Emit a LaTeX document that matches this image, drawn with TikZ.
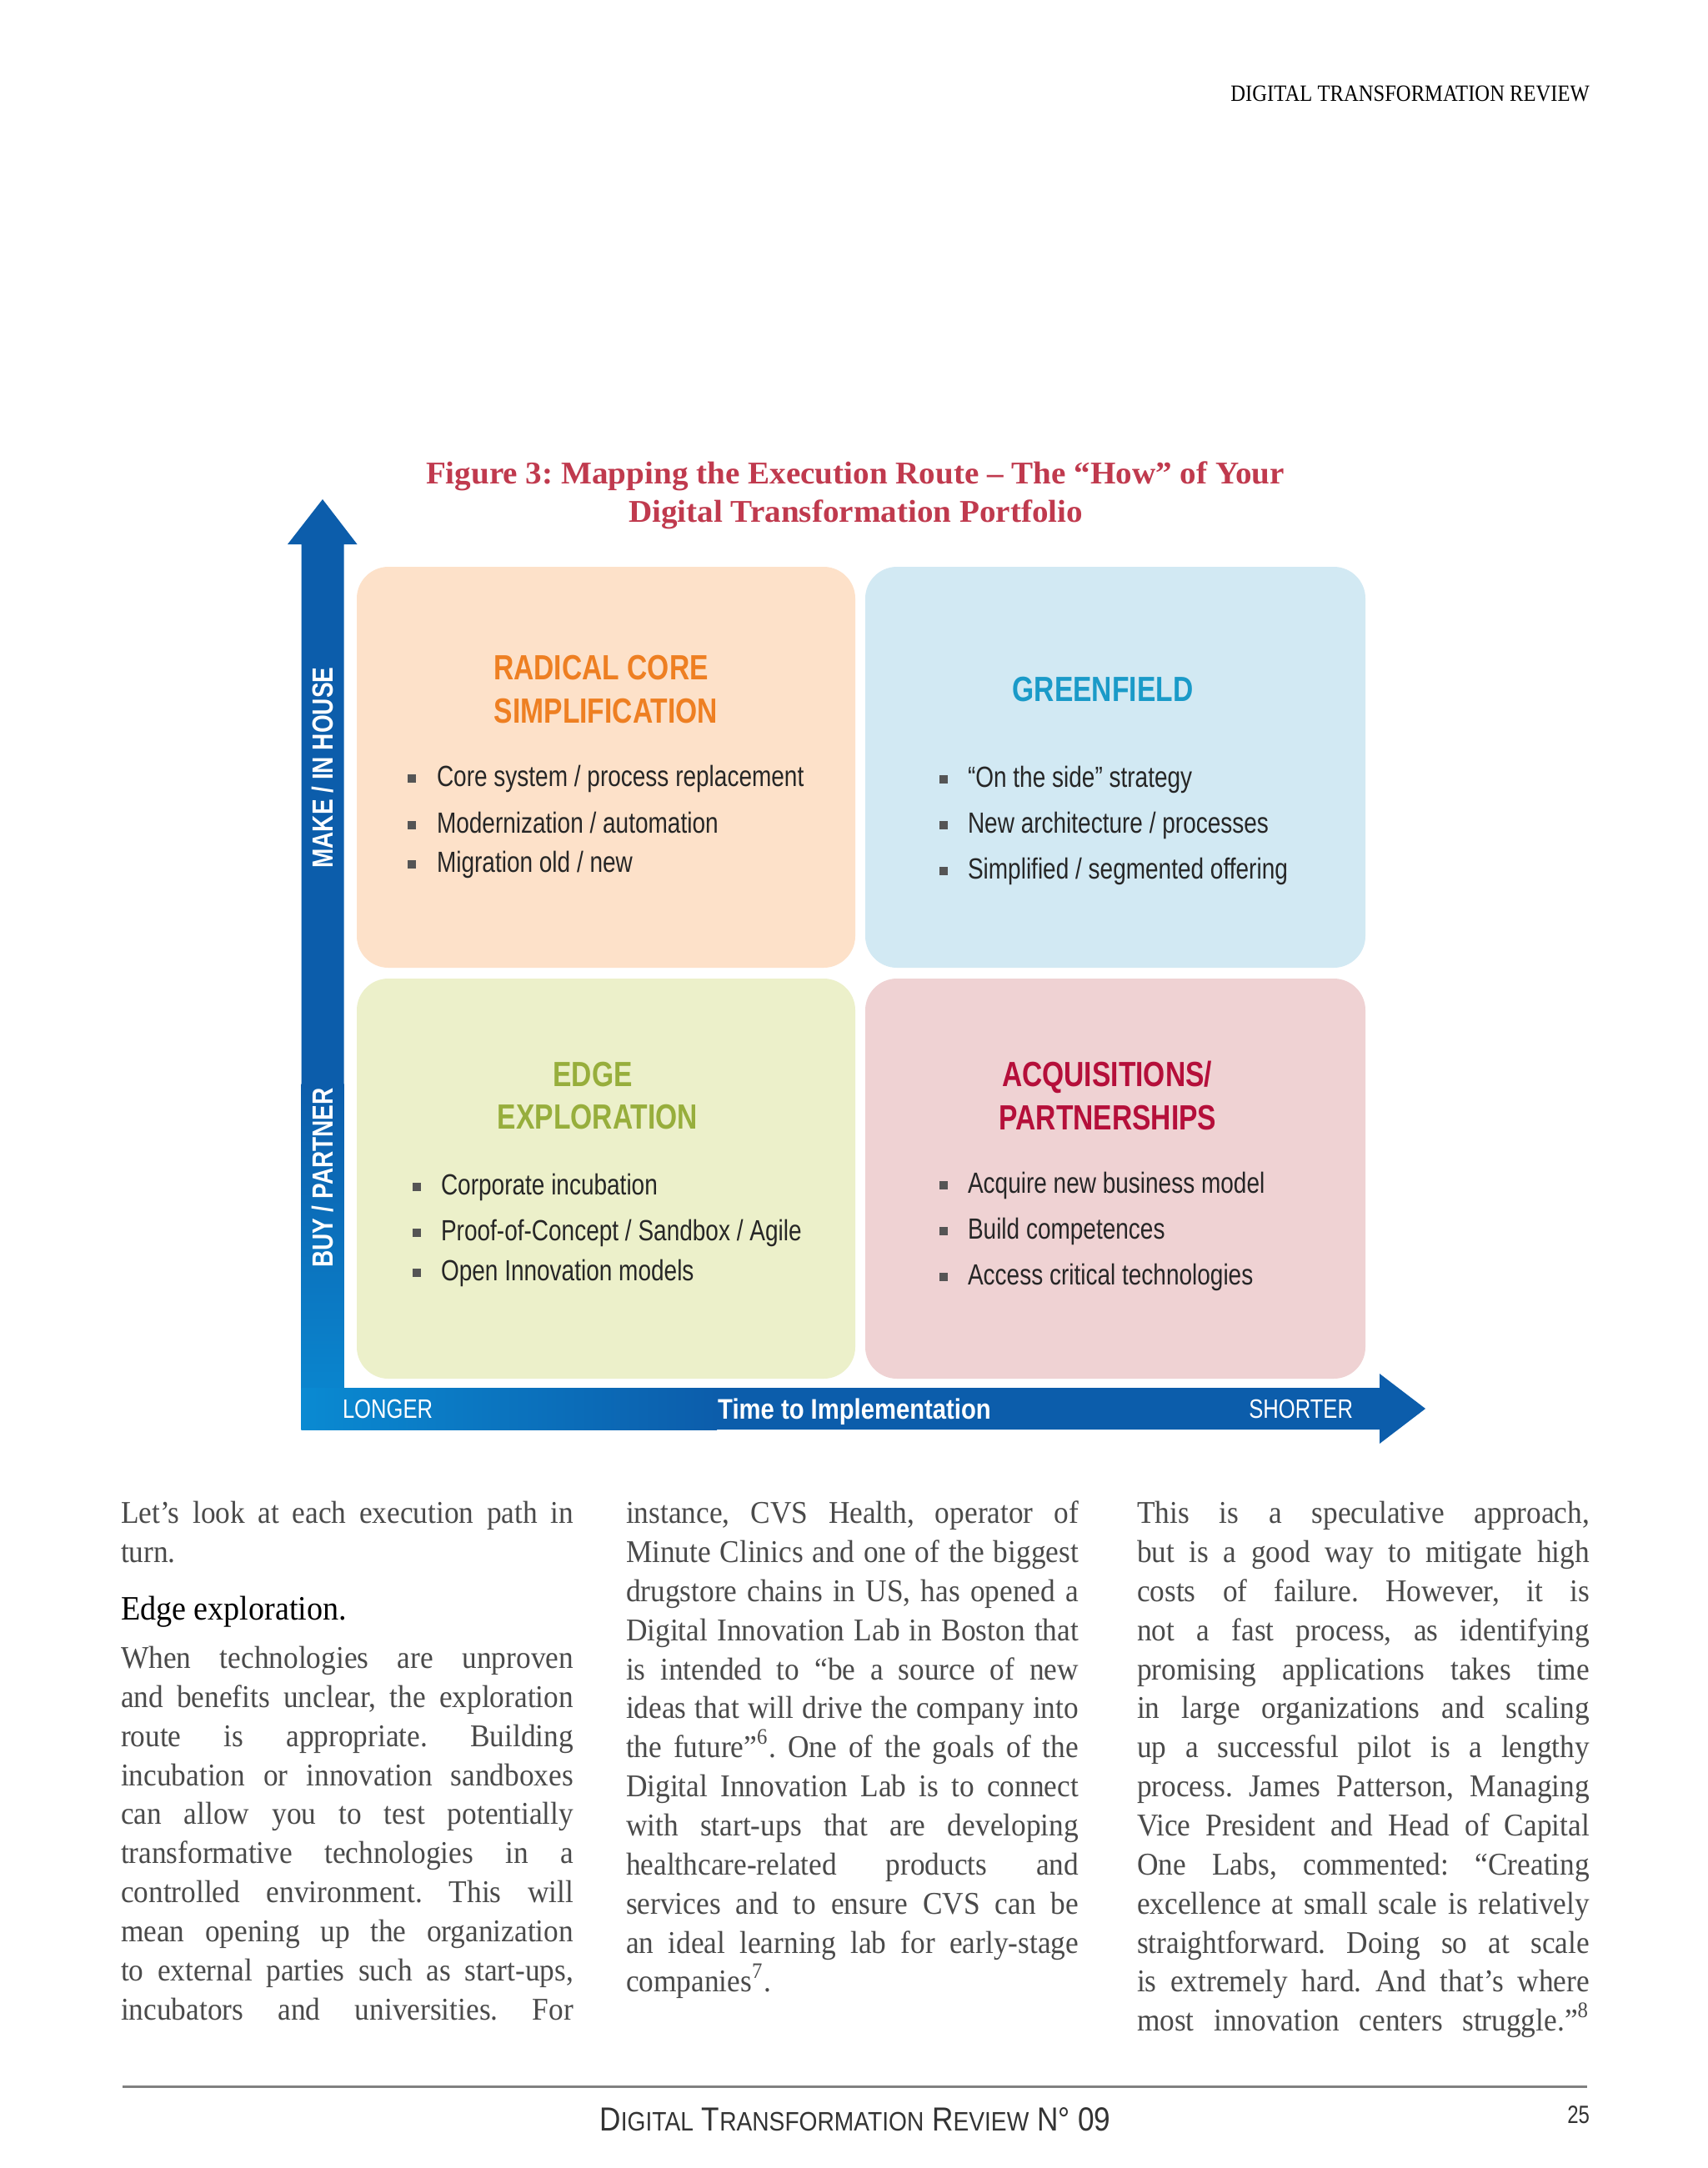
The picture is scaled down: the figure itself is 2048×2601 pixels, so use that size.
\documentclass[tikz,border=0pt]{standalone}
\usepackage{fontspec}
\setmainfont{Liberation Serif}
\newfontfamily\condfont[FakeStretch=0.8]{Liberation Sans}
\newfontfamily\condwfont[FakeStretch=0.86]{Liberation Sans}
\newfontfamily\bodyfont[FakeStretch=0.93]{Liberation Serif}
\newfontfamily\headfont[FakeStretch=0.88]{Liberation Serif}
\newfontfamily\titlefont[FakeStretch=1.03]{Liberation Serif}
\newfontfamily\footfont[FakeStretch=0.88]{Liberation Sans}
\definecolor{peach}{HTML}{FDE1C9}
\definecolor{skyl}{HTML}{D2E9F3}
\definecolor{limel}{HTML}{ECF0CA}
\definecolor{pinkl}{HTML}{EFD2D3}
\definecolor{torange}{HTML}{EE7F22}
\definecolor{tcyan}{HTML}{1A9AC8}
\definecolor{tolive}{HTML}{97AE3C}
\definecolor{tcrim}{HTML}{B50F3A}
\definecolor{figred}{HTML}{C03A4E}
\definecolor{adark}{HTML}{0C5DAB}
\definecolor{alight}{HTML}{0A8AD2}
\definecolor{bgrey}{HTML}{555555}
\definecolor{bodyc}{HTML}{4A4A4A}
\definecolor{rulec}{HTML}{808080}
\newcommand\jl[1]{\makebox[135.75pt][s]{#1}}
\newcommand\sct[2]{{\fontsize{10pt}{12pt}\selectfont#1}{\fontsize{8pt}{9pt}\selectfont#2}}
\frenchspacing
\begin{document}
\begin{tikzpicture}[x=0.25pt,y=-0.25pt,
  txt/.style={inner sep=0pt, outer sep=0pt},
  qtitle/.style={txt, font=\condfont\bfseries\fontsize{10.5pt}{12pt}\selectfont, text height=7.52pt, text depth=0pt},
  btxt/.style={txt, anchor=west, font=\condfont\fontsize{8.75pt}{10pt}\selectfont, text=black!85, text height=4.54pt, text depth=0pt},
  bsq/.style={fill=bgrey, draw=none, minimum size=2.5pt, inner sep=0pt},
  axlab/.style={txt, rotate=90, text=white, font=\condfont\bfseries\fontsize{8.75pt}{10pt}\selectfont, text height=6.27pt, text depth=0pt},
  barlab/.style={txt, text=white, font=\condfont\fontsize{8pt}{10pt}\selectfont, text height=5.73pt, text depth=0pt},
  bl/.style={txt, anchor=west, text=bodyc, font=\bodyfont\fontsize{9.5pt}{11pt}\selectfont, text height=5.5pt, text depth=0pt},
  figt/.style={txt, text=figred, font=\titlefont\bfseries\fontsize{9.5pt}{11pt}\selectfont, text height=6.29pt, text depth=0pt},
  quad/.style={draw=none, rounded corners=9.5pt}
]
\useasboundingbox[fill=white] (0,0) rectangle (2048,2601);

% header
\node[txt, anchor=east, font=\headfont\fontsize{7pt}{8pt}\selectfont, text height=4.63pt, text depth=0pt] (hdr) at (1907,112.5) {DIGITAL TRANSFORMATION REVIEW};

% figure title
\node[figt] (ft1) at (1026,567.5) {Figure 3: Mapping the Execution Route – The “How” of Your};
\node[figt] (ft2) at (1026.5,614) {Digital Transformation Portfolio};

% quadrants
\fill[quad, peach] (428,680) rectangle (1026,1161);
\fill[quad, skyl] (1038,680) rectangle (1638,1161);
\fill[quad, limel] (428,1174) rectangle (1026,1654);
\fill[quad, pinkl] (1038,1174) rectangle (1638,1654);

% axes
\fill[adark] (345,653) -- (387,599) -- (428.5,653) -- (412.5,653) -- (412.5,1715) -- (361.5,1715) -- (361.5,653) -- cycle;
\fill[adark] (361.5,1665) -- (1655,1665) -- (1655,1648) -- (1710,1690) -- (1655,1732) -- (1655,1715) -- (361.5,1715) -- cycle;
\shade[top color=adark, bottom color=alight] (361.5,1300) rectangle (412.5,1715);
\shade[left color=alight, right color=adark] (361.5,1665) rectangle (860,1715);

\node[axlab] (make) at (387,921) {MAKE / IN HOUSE};
\node[axlab] (buy) at (387,1413) {BUY / PARTNER};
\node[barlab, anchor=west] (longer) at (411,1690) {LONGER};
\node[barlab, anchor=east] (shorter) at (1623,1690) {SHORTER};
\node[txt, text=white, font=\condwfont\bfseries\fontsize{8.5pt}{10pt}\selectfont, text height=6.09pt, text depth=0pt] (time) at (1025,1690) {Time to Implementation};

% quadrant titles
\node[qtitle, text=torange] (rc1) at (721,800) {RADICAL CORE};
\node[qtitle, text=torange] (rc2) at (727,852) {SIMPLIFICATION};
\node[qtitle, text=tcyan] (gf) at (1323,826) {GREENFIELD};
\node[qtitle, text=tolive] (ed1) at (711,1288) {EDGE};
\node[qtitle, text=tolive] (ed2) at (717,1339) {EXPLORATION};
\node[qtitle, text=tcrim] (ap1) at (1328,1288) {ACQUISITIONS/};
\node[qtitle, text=tcrim] (ap2) at (1329,1340) {PARTNERSHIPS};

% bullets TL
\node[bsq] (tls1) at (494,934) {};
\node[bsq] (tls2) at (494,990) {};
\node[bsq] (tls3) at (494,1037) {};
\node[btxt] (tlb1) at (524,934) {Core system / process replacement};
\node[btxt] (tlb2) at (524,990) {Modernization / automation};
\node[btxt] (tlb3) at (524,1037) {Migration old / new};
% bullets TR
\node[bsq] (trs1) at (1132,935) {};
\node[bsq] (trs2) at (1132,990) {};
\node[bsq] (trs3) at (1132,1045) {};
\node[btxt] (trb1) at (1161,935) {“On the side” strategy};
\node[btxt] (trb2) at (1161,990) {New architecture / processes};
\node[btxt] (trb3) at (1161,1045) {Simplified / segmented offering};
% bullets BL
\node[bsq] (bls1) at (500,1424) {};
\node[bsq] (bls2) at (500,1479) {};
\node[bsq] (bls3) at (500,1527) {};
\node[btxt] (blb1) at (529,1424) {Corporate incubation};
\node[btxt] (blb2) at (529,1479) {Proof-of-Concept / Sandbox / Agile};
\node[btxt] (blb3) at (529,1527) {Open Innovation models};
% bullets BR
\node[bsq] (brs1) at (1132,1422) {};
\node[bsq] (brs2) at (1132,1477) {};
\node[bsq] (brs3) at (1132,1532) {};
\node[btxt] (brb1) at (1161,1422) {Acquire new business model};
\node[btxt] (brb2) at (1161,1477) {Build competences};
\node[btxt] (brb3) at (1161,1532) {Access critical technologies};

% body column 1
\node[bl] (a1) at (145,1816) {\jl{Let’s look at each execution path in}};
\node[bl] (a2) at (145,1863) {turn.};
\node[bl, text=black, font=\bodyfont\fontsize{10.25pt}{12pt}\selectfont] (a3) at (145,1932) {Edge exploration.};
\node[bl] (a4) at (145,1990) {\jl{When technologies are unproven}};
\node[bl] (a5) at (145,2037) {\jl{and benefits unclear, the exploration}};
\node[bl] (a6) at (145,2084) {\jl{route is appropriate. Building}};
\node[bl] (a7) at (145,2131) {\jl{incubation or innovation sandboxes}};
\node[bl] (a8) at (145,2177) {\jl{can allow you to test potentially}};
\node[bl] (a9) at (145,2224) {\jl{transformative technologies in a}};
\node[bl] (a10) at (145,2271) {\jl{controlled environment. This will}};
\node[bl] (a11) at (145,2318) {\jl{mean opening up the organization}};
\node[bl] (a12) at (145,2365) {\jl{to external parties such as start-ups,}};
\node[bl] (a13) at (145,2412) {\jl{incubators and universities. For}};

% body column 2
\node[bl] (b1) at (751,1816) {\jl{instance, CVS Health, operator of}};
\node[bl] (b2) at (751,1863) {\jl{Minute Clinics and one of the biggest}};
\node[bl] (b3) at (751,1910) {\jl{drugstore chains in US, has opened a}};
\node[bl] (b4) at (751,1957) {\jl{Digital Innovation Lab in Boston that}};
\node[bl] (b5) at (751,2004) {\jl{is intended to “be a source of new}};
\node[bl] (b6) at (751,2050) {\jl{ideas that will drive the company into}};
\node[bl] (b7) at (751,2097) {\jl{the future”\textsuperscript{6}. One of the goals of the}};
\node[bl] (b8) at (751,2144) {\jl{Digital Innovation Lab is to connect}};
\node[bl] (b9) at (751,2191) {\jl{with start-ups that are developing}};
\node[bl] (b10) at (751,2238) {\jl{healthcare-related products and}};
\node[bl] (b11) at (751,2285) {\jl{services and to ensure CVS can be}};
\node[bl] (b12) at (751,2332) {\jl{an ideal learning lab for early-stage}};
\node[bl] (b13) at (751,2378) {companies\textsuperscript{7}.};

% body column 3
\node[bl] (c1) at (1364,1816) {\jl{This is a speculative approach,}};
\node[bl] (c2) at (1364,1863) {\jl{but is a good way to mitigate high}};
\node[bl] (c3) at (1364,1910) {\jl{costs of failure. However, it is}};
\node[bl] (c4) at (1364,1957) {\jl{not a fast process, as identifying}};
\node[bl] (c5) at (1364,2004) {\jl{promising applications takes time}};
\node[bl] (c6) at (1364,2050) {\jl{in large organizations and scaling}};
\node[bl] (c7) at (1364,2097) {\jl{up a successful pilot is a lengthy}};
\node[bl] (c8) at (1364,2144) {\jl{process. James Patterson, Managing}};
\node[bl] (c9) at (1364,2191) {\jl{Vice President and Head of Capital}};
\node[bl] (c10) at (1364,2238) {\jl{One Labs, commented: “Creating}};
\node[bl] (c11) at (1364,2285) {\jl{excellence at small scale is relatively}};
\node[bl] (c12) at (1364,2332) {\jl{straightforward. Doing so at scale}};
\node[bl] (c13) at (1364,2378) {\jl{is extremely hard. And that’s where}};
\node[bl] (c14) at (1364,2425) {\jl{most innovation centers struggle.”\textsuperscript{8}}};

% footer
\draw[rulec, line width=0.75pt] (147,2503) -- (1904,2503);
\node[txt, text=black!80, font=\footfont, text height=7.16pt, text depth=0pt] (foot) at (1026,2542) {\sct{D}{IGITAL} \sct{T}{RANSFORMATION} \sct{R}{EVIEW} \sct{N° 09}{}};
\node[txt, anchor=east, text=black!80, font=\condfont\fontsize{7.5pt}{9pt}\selectfont, text height=5.37pt, text depth=0pt] (pg) at (1907,2537) {25};
\end{tikzpicture}
\end{document}
